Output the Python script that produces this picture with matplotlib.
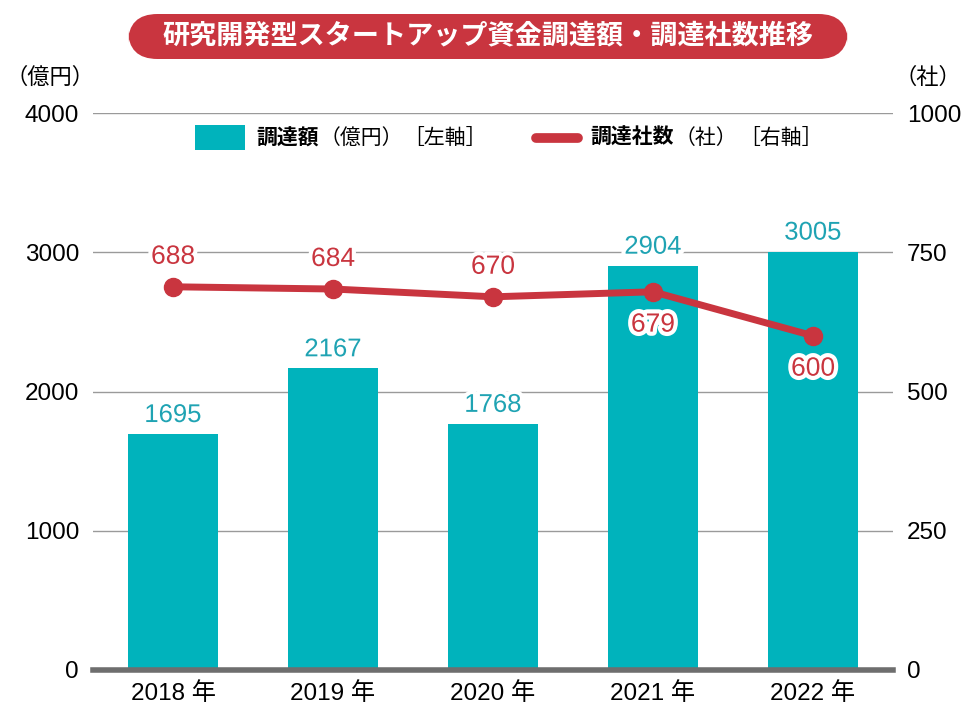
import matplotlib.pyplot as plt
import matplotlib.patheffects as pe
from matplotlib.patches import FancyBboxPatch, Rectangle
from matplotlib.lines import Line2D

plt.rcParams['font.family'] = ['Liberation Sans', 'Noto Sans CJK JP', 'DejaVu Sans']

# data
years = ['2018 年', '2019 年', '2020 年', '2021 年', '2022 年']
funding = [1695, 2167, 1768, 2904, 3005]      # 億円, left axis
companies = [688, 684, 670, 679, 600]         # 社, right axis
label_above = [True, True, True, False, False]

TEAL = '#00B3BC'
TEAL_TXT = '#1FA3B3'
RED = '#C9353F'

fig = plt.figure(figsize=(9.8, 7.2), dpi=100)
ax = fig.add_axes([93/980, 1-670/720, 800/980, 557/720])
ax2 = ax.twinx()

x = list(range(len(years)))
ax.bar(x, funding, width=0.5625, color=TEAL, zorder=2)
ax.set_xlim(-0.5, 4.5)
ax.set_ylim(0, 4000)
ax.set_yticks([0, 1000, 2000, 3000, 4000])
ax.grid(axis='y', color='#9a9a9a', linewidth=1.0, zorder=0)
ax.set_axisbelow(True)
for s in ['left', 'right', 'top']:
    ax.spines[s].set_visible(False)
ax.spines['bottom'].set_color('#6e6e6e')
ax.spines['bottom'].set_linewidth(4)
ax.set_xticks(x)
ax.set_xticklabels(years)
ax.tick_params(axis='both', length=0, labelsize=17.5, colors='black')
ax.tick_params(axis='x', pad=9)
ax.tick_params(axis='y', pad=10)

for xi, v in zip(x, funding):
    ax.annotate(str(v), (xi, v), xytext=(0, 5), textcoords='offset points',
                ha='center', va='bottom', fontsize=18.5, color=TEAL_TXT, zorder=5,
                path_effects=[pe.withStroke(linewidth=6, foreground='white')])

ax2.plot(x, companies, color=RED, linewidth=5, marker='o', markersize=13,
         solid_capstyle='round', zorder=3)
ax2.set_ylim(0, 1000)
ax2.set_yticks([0, 250, 500, 750, 1000])
for s in ['left', 'right', 'top', 'bottom']:
    ax2.spines[s].set_visible(False)
ax2.tick_params(axis='y', length=0, labelsize=17.5, colors='black', pad=10)

for xi, v, up in zip(x, companies, label_above):
    off = (0, 13) if up else (0, -15)
    ax2.annotate(str(v), (xi, v), xytext=off, textcoords='offset points',
                 ha='center', va='bottom' if up else 'top', fontsize=19, color=RED,
                 path_effects=[pe.withStroke(linewidth=6, foreground='white')])

# axis unit labels
fig.text(50/980, 1-78/720, '（億円）', ha='center', va='center', fontsize=16)
fig.text(928/980, 1-78/720, '（社）', ha='center', va='center', fontsize=16)

# title box
fig.patches.append(FancyBboxPatch((128/980, 1-59/720), 720/980, 45/720,
                                  boxstyle='round,pad=0,rounding_size=0.03',
                                  transform=fig.transFigure, facecolor=RED,
                                  edgecolor='none', mutation_aspect=980/720))
fig.text(488/980, 1-36/720, '研究開発型スタートアップ資金調達額・調達社数推移',
         ha='center', va='center', fontsize=19.5, fontweight='bold', color='white')

# legend
ly = 1 - 138/720
fig.patches.append(Rectangle((195/980, 1-150/720), 50/980, 25/720,
                             transform=fig.transFigure, facecolor=TEAL, edgecolor='none'))
fig.text(256/980, ly, '調達額', ha='left', va='center', fontsize=15, fontweight='bold')
fig.text(361/980, ly, '（億円）', ha='center', va='center', fontsize=15)
fig.text(445/980, ly, '［左軸］', ha='center', va='center', fontsize=15)
fig.lines.append(Line2D([536/980, 578/980], [ly, ly], transform=fig.transFigure,
                        color=RED, linewidth=7, solid_capstyle='round'))
fig.text(590/980, ly, '調達社数', ha='left', va='center', fontsize=15, fontweight='bold')
fig.text(706/980, ly, '（社）', ha='center', va='center', fontsize=15)
fig.text(781/980, ly, '［右軸］', ha='center', va='center', fontsize=15)

fig.savefig('out.png', dpi=100)
